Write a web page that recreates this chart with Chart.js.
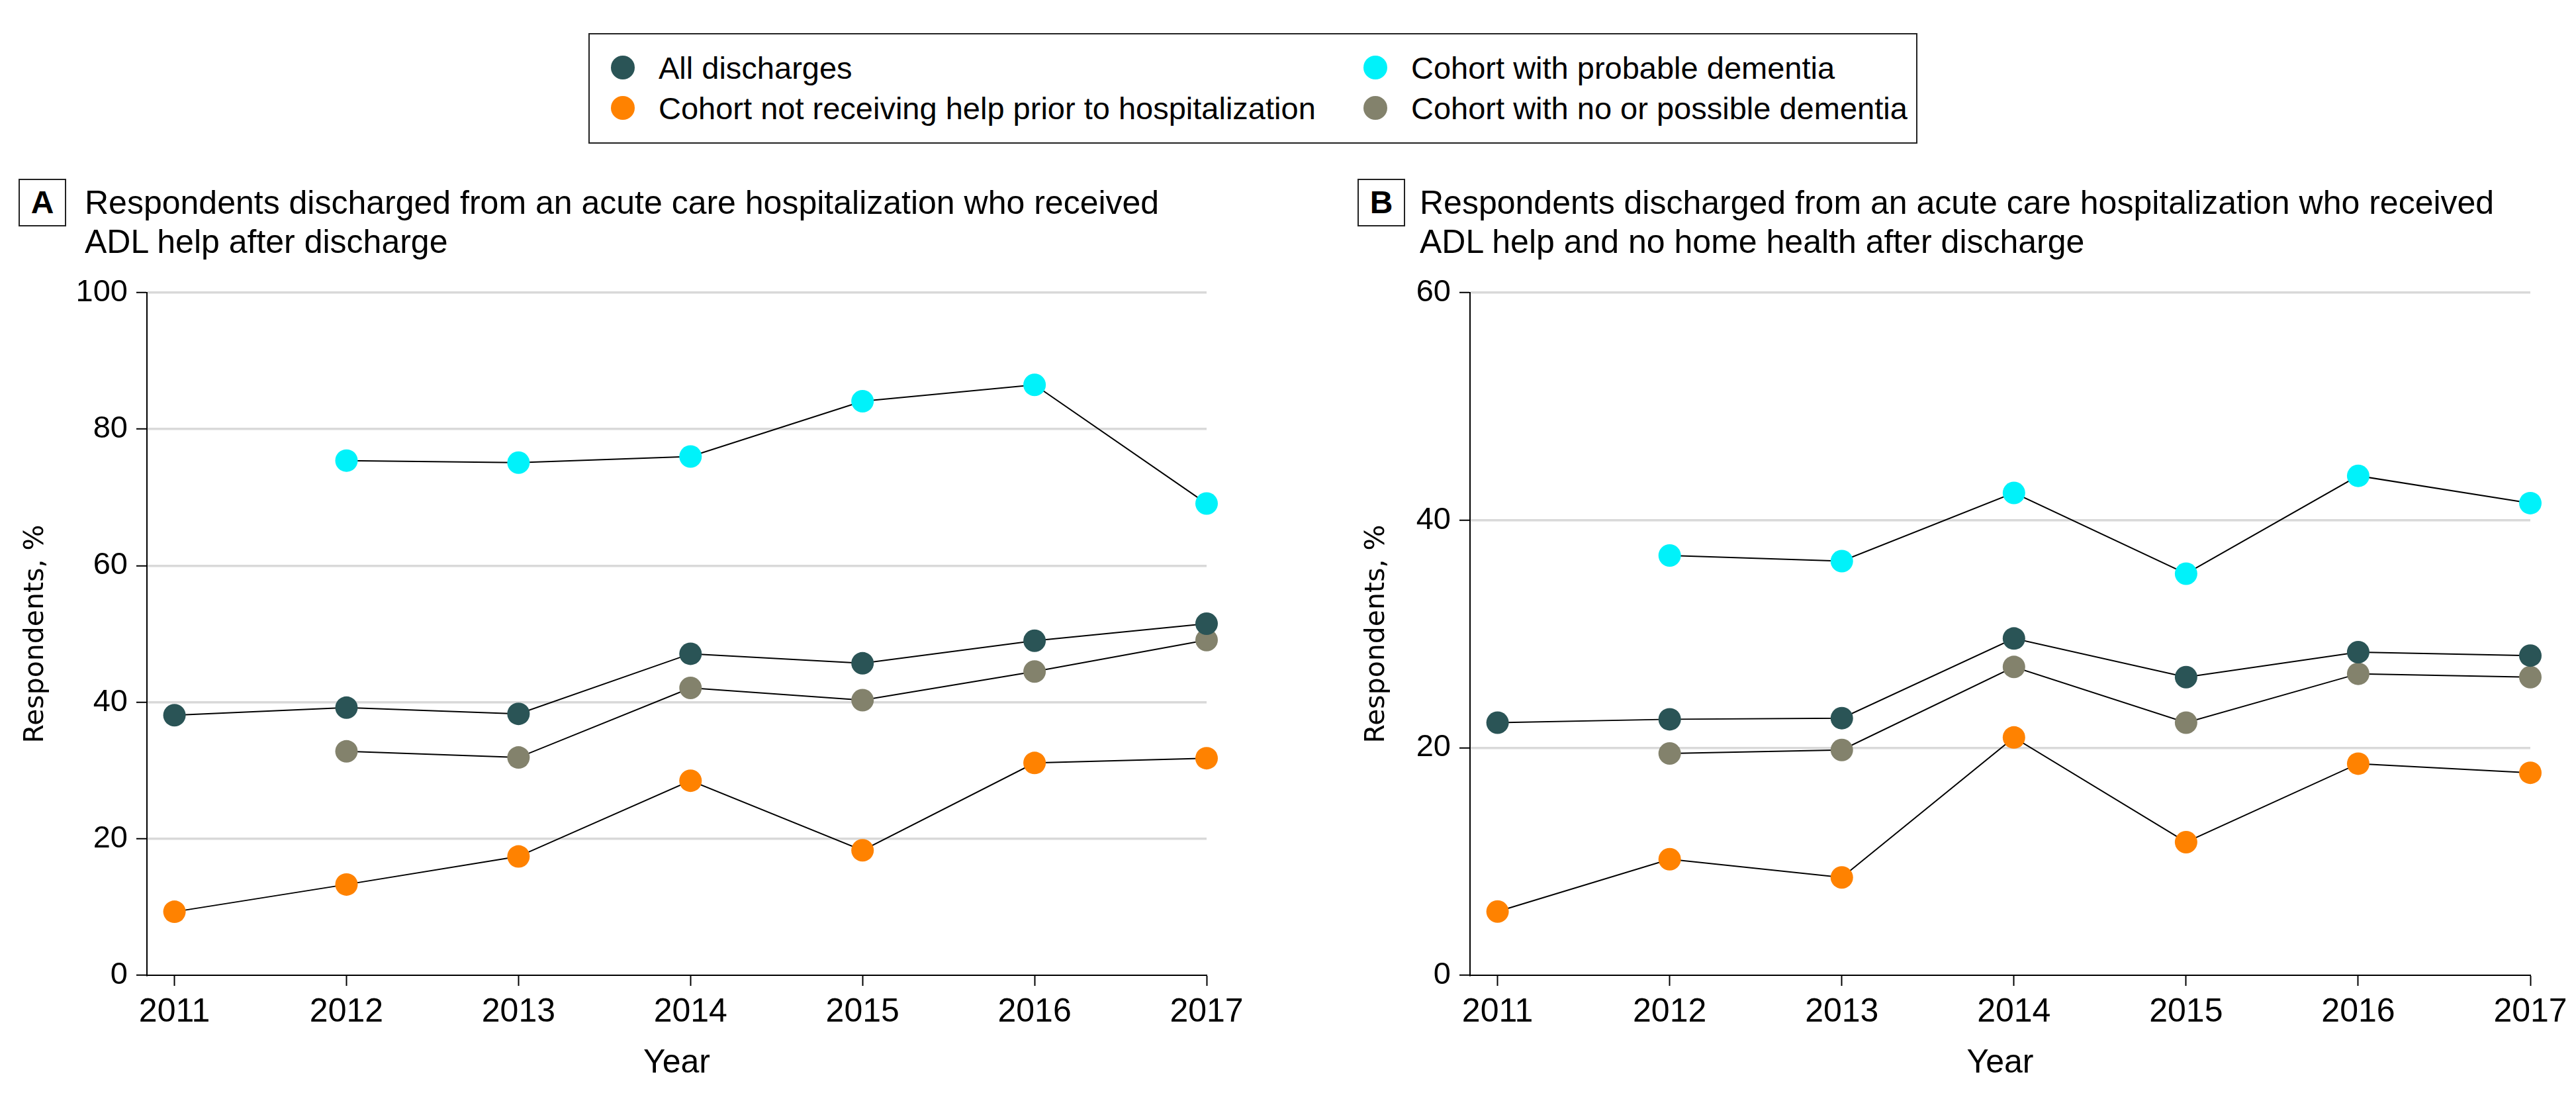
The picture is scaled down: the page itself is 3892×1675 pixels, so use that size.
<!DOCTYPE html>
<html>
<head>
<meta charset="utf-8">
<script src="https://cdn.jsdelivr.net/npm/chart.js@4.4.1/dist/chart.umd.min.js"></script>
<style>
  body { margin: 0; width: 3892px; height: 1675px; background: #fff; position: relative; overflow: hidden;
         font-family: "Liberation Sans", Arial, sans-serif; color: #000; }
  #legend { position: absolute; left: 889px; top: 50px; width: 2008px; height: 167px;
            border: 2px solid #222; box-sizing: border-box; }
  .item { position: absolute; font-size: 47px; line-height: 46px; white-space: nowrap; }
  .dot { position: absolute; width: 36px; height: 36px; border-radius: 50%; }
  .tag { position: absolute; top: 270px; width: 72px; height: 72px; border: 2px solid #222; box-sizing: border-box;
         font-weight: bold; font-size: 48px; line-height: 68px; text-align: center; }
  .title { position: absolute; top: 277px; font-size: 50px; line-height: 59px; white-space: nowrap; }
  canvas { position: absolute; top: 400px; }
</style>
</head>
<body>
<div id="legend"></div>

<div class="tag" style="left:28px">A</div>
<div class="title" style="left:128px">Respondents discharged from an acute care hospitalization who received<br>ADL help after discharge</div>

<div class="tag" style="left:2051px">B</div>
<div class="title" style="left:2145px">Respondents discharged from an acute care hospitalization who received<br>ADL help and no home health after discharge</div>

<canvas id="chartA" width="1946" height="1275" style="left:0px"></canvas>
<canvas id="chartB" width="1946" height="1275" style="left:1946px"></canvas>

<script>
// categories
const years = [2011, 2012, 2013, 2014, 2015, 2016, 2017];
const seriesNames = [
  'All discharges',
  'Cohort not receiving help prior to hospitalization',
  'Cohort with probable dementia',
  'Cohort with no or possible dementia'
];
const seriesColors = ['#2a5456', '#ff8200', '#00f2fa', '#83826c'];

// panel A - ADL help after discharge (%)
const allA      = [38.1, 39.2, 38.3, 47.1, 45.7, 49.0, 51.5];
const noHelpA   = [9.3, 13.3, 17.4, 28.5, 18.3, 31.1, 31.8];
const dementiaA = [null, 75.4, 75.1, 76.0, 84.1, 86.5, 69.1];
const possibleA = [null, 32.8, 31.9, 42.1, 40.3, 44.5, 49.1];

// panel B - ADL help and no home health after discharge (%)
const allB      = [22.2, 22.5, 22.6, 29.6, 26.2, 28.4, 28.1];
const noHelpB   = [5.6, 10.2, 8.6, 20.9, 11.7, 18.6, 17.8];
const dementiaB = [null, 36.9, 36.4, 42.4, 35.3, 43.9, 41.5];
const possibleB = [null, 19.5, 19.8, 27.1, 22.2, 26.5, 26.2];

const yTicksA = [0, 20, 40, 60, 80, 100];
const yTicksB = [0, 20, 40, 60];

// legend, two columns (positions are marker centres inside the box)
const legend = document.getElementById('legend');
const legendPos = [[50, 50], [50, 111], [1187, 50], [1187, 111]];
seriesNames.forEach((name, i) => {
  const [x, y] = legendPos[i];
  const dot = document.createElement('div');
  dot.className = 'dot';
  dot.style.left = (x - 18) + 'px';
  dot.style.top = (y - 18) + 'px';
  dot.style.background = seriesColors[i];
  legend.appendChild(dot);
  const txt = document.createElement('div');
  txt.className = 'item';
  txt.textContent = name;
  txt.style.left = (x + 54) + 'px';
  txt.style.top = (y - 22) + 'px';
  legend.appendChild(txt);
});

Chart.defaults.font.family = '"Liberation Sans", Arial, sans-serif';
Chart.defaults.color = '#000';

function makeChart(id, series, yTicks, opts) {
  const datasets = series.map((vals, i) => ({
    label: seriesNames[i],
    data: years.map((x, j) => ({ x: x, y: vals[j] })),
    borderColor: '#000',
    borderWidth: 2,
    pointRadius: 17,
    pointHoverRadius: 17,
    pointBorderWidth: 0,
    pointBackgroundColor: seriesColors[i],
    tension: 0,
    clip: false
  }));

  return new Chart(document.getElementById(id), {
    type: 'line',
    data: { datasets },
    options: {
      responsive: false,
      animation: false,
      layout: { padding: { top: 42, right: opts.padRight, bottom: 0, left: 0 } },
      plugins: { legend: { display: false }, tooltip: { enabled: false } },
      scales: {
        x: {
          type: 'linear',
          min: 2010.84,
          max: 2017,
          afterBuildTicks: s => { s.ticks = years.map(v => ({ value: v })); },
          afterFit: s => { s.height = 202; },
          grid: { drawOnChartArea: false, tickColor: '#000', tickLength: 16, tickWidth: 2 },
          border: { color: '#000', width: 2 },
          ticks: { font: { size: 50 }, padding: 10, maxRotation: 0, callback: v => String(v) },
          title: { display: true, text: 'Year', font: { size: 50 }, padding: { top: 0, bottom: 39 } }
        },
        y: {
          min: 0,
          max: yTicks[yTicks.length - 1],
          afterBuildTicks: s => { s.ticks = yTicks.map(v => ({ value: v })); },
          afterFit: s => { s.width = opts.axisWidth; },
          grid: {
            color: c => (c.tick && c.tick.value === 0) ? 'rgba(0,0,0,0)' : '#d9d9d9',
            lineWidth: 3.5,
            tickColor: '#000',
            tickLength: 16,
            tickWidth: 2
          },
          border: { color: '#000', width: 2 },
          ticks: { font: { size: 47 }, padding: 13 },
          title: {
            display: true,
            text: 'Respondents, %',
            font: { family: '"DejaVu Sans", sans-serif', size: 41 },
            padding: { top: opts.titlePad, bottom: 0 }
          }
        }
      }
    }
  });
}

makeChart('chartA', [allA, noHelpA, dementiaA, possibleA], yTicksA,
  { axisWidth: 222, padRight: 123, titlePad: 30 });
makeChart('chartB', [allB, noHelpB, dementiaB, possibleB], yTicksB,
  { axisWidth: 275, padRight: 69, titlePad: 110 });
</script>
</body>
</html>
